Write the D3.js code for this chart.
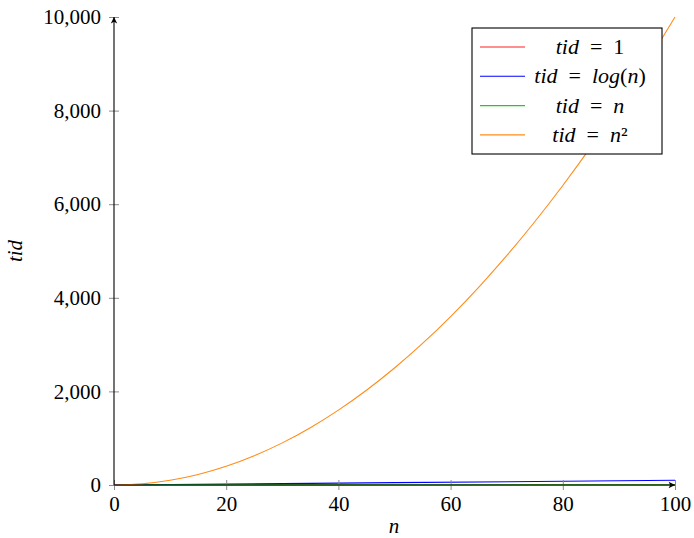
<!DOCTYPE html>
<html>
<head>
<meta charset="utf-8">
<script src="https://cdn.jsdelivr.net/npm/d3@7"></script>
<style>
  body { margin: 0; background: #fff; }
  text { font-family: "Liberation Serif", "DejaVu Serif", serif; }
</style>
</head>
<body>
<div class="chart"></div>
<script>
// values
const xTicks = [0, 20, 40, 60, 80, 100];
const yTicks = [0, 2000, 4000, 6000, 8000, 10000];

const constPoints = [[0, 1], [100, 1]];
const logPoints = [[1, 0], [10, 2.3], [20, 3], [40, 3.7], [60, 4.1], [80, 4.4], [100, 4.6]];
const linPoints = [[0, 0], [50, 50], [100, 100]];
const squarePoints = [[0, 0], [5, 25], [10, 100], [15, 225], [20, 400], [25, 625], [30, 900],
  [35, 1225], [40, 1600], [45, 2025], [50, 2500], [55, 3025], [60, 3600], [65, 4225],
  [70, 4900], [75, 5625], [80, 6400], [85, 7225], [90, 8100], [95, 9025], [100, 10000]];

const eq = '\u2002=\u2002';
const series = [
  { name: 'const', color: '#ff2020', points: constPoints, label: [['tid', 1], [eq, 0], ['1', 0]] },
  { name: 'log', color: '#0000ff', points: linPoints, label: [['tid', 1], [eq, 0], ['log', 1], ['(', 0], ['n', 1], [')', 0]] },
  { name: 'lin', color: '#18d018', points: logPoints, label: [['tid', 1], [eq, 0], ['n', 1]] },
  { name: 'square', color: '#ff8c1a', points: squarePoints, label: [['tid', 1], [eq, 0], ['n', 1], ['²', 0]] }
];

const width = 694, height = 538;
const plotLeft = 114, plotRight = 675, plotTop = 17, plotBottom = 485;
const serif = '"Liberation Serif", "DejaVu Serif", serif';

const svg = d3.select('.chart').append('svg')
  .attr('width', width).attr('height', height);

const xScale = d3.scaleLinear().domain([0, 100]).range([plotLeft, plotRight]);
const yScale = d3.scaleLinear().domain([0, 10000]).range([plotBottom, plotTop]);

const defs = svg.append('defs');
defs.append('marker')
  .attr('id', 'arrow')
  .attr('viewBox', '0 0 10 10')
  .attr('refX', 9).attr('refY', 5)
  .attr('markerWidth', 8).attr('markerHeight', 8)
  .attr('markerUnits', 'userSpaceOnUse')
  .attr('orient', 'auto')
  .append('path')
  .attr('d', 'M1,1 L9,5 L1,9 L3,5 Z')
  .attr('fill', '#000');

// data lines
const line = d3.line()
  .x(d => xScale(d[0]))
  .y(d => yScale(d[1]))
  .curve(d3.curveMonotoneX);

svg.append('g').selectAll('path')
  .data(series)
  .join('path')
  .attr('fill', 'none')
  .attr('stroke', d => d.color)
  .attr('stroke-width', 1.1)
  .attr('d', d => line(d.points));

// X axis
const xAxis = d3.axisBottom(xScale)
  .tickValues(xTicks)
  .tickSizeInner(5)
  .tickSizeOuter(0)
  .tickPadding(6);

const gx = svg.append('g')
  .attr('transform', `translate(0, ${plotBottom})`)
  .call(xAxis)
  .attr('font-family', serif);
gx.select('.domain').remove();
gx.selectAll('.tick line').attr('y1', -5).attr('stroke', '#8c8c8c');
gx.selectAll('.tick text')
  .attr('font-size', 21)
  .attr('fill', '#000');

// Y axis
const yAxis = d3.axisLeft(yScale)
  .tickValues(yTicks)
  .tickFormat(d3.format(','))
  .tickSizeInner(5)
  .tickSizeOuter(0)
  .tickPadding(8);

const gy = svg.append('g')
  .attr('transform', `translate(${plotLeft}, 0)`)
  .call(yAxis)
  .attr('font-family', serif);
gy.select('.domain').remove();
gy.selectAll('.tick line').attr('x1', 5).attr('stroke', '#8c8c8c');
gy.selectAll('.tick text')
  .attr('font-size', 21)
  .attr('fill', '#000');

// axis lines with arrows
svg.append('line')
  .attr('x1', xScale(0)).attr('y1', yScale(0))
  .attr('x2', xScale(100)).attr('y2', yScale(0))
  .attr('stroke', '#000').attr('stroke-width', 1.1)
  .attr('marker-end', 'url(#arrow)');
svg.append('line')
  .attr('x1', xScale(0)).attr('y1', yScale(0))
  .attr('x2', xScale(0)).attr('y2', yScale(10000))
  .attr('stroke', '#000').attr('stroke-width', 1.1)
  .attr('marker-end', 'url(#arrow)');

// axis labels
svg.append('text')
  .attr('x', 394).attr('y', 533)
  .attr('text-anchor', 'middle')
  .attr('font-size', 21)
  .attr('font-style', 'italic')
  .text('n');

svg.append('text')
  .attr('transform', `translate(22, ${(plotTop + plotBottom) / 2}) rotate(-90)`)
  .attr('text-anchor', 'middle')
  .attr('font-size', 21)
  .attr('font-style', 'italic')
  .text('tid');

// legend
const legend = svg.append('g').attr('transform', 'translate(472, 28)');
legend.append('rect')
  .attr('width', 190).attr('height', 126)
  .attr('fill', '#fff')
  .attr('stroke', '#000')
  .attr('stroke-width', 1.1);

const rows = legend.selectAll('g.row')
  .data(series)
  .join('g')
  .attr('class', 'row')
  .attr('transform', (d, i) => `translate(0, ${19 + i * 29.3})`);

rows.append('line')
  .attr('x1', 8).attr('x2', 53)
  .attr('stroke', d => d.color)
  .attr('stroke-width', 1.1);

rows.append('text')
  .attr('x', 118).attr('y', 7)
  .attr('text-anchor', 'middle')
  .attr('font-size', 22)
  .selectAll('tspan')
  .data(d => d.label)
  .join('tspan')
  .attr('font-style', d => d[1] ? 'italic' : 'normal')
  .text(d => d[0]);
</script>
</body>
</html>
